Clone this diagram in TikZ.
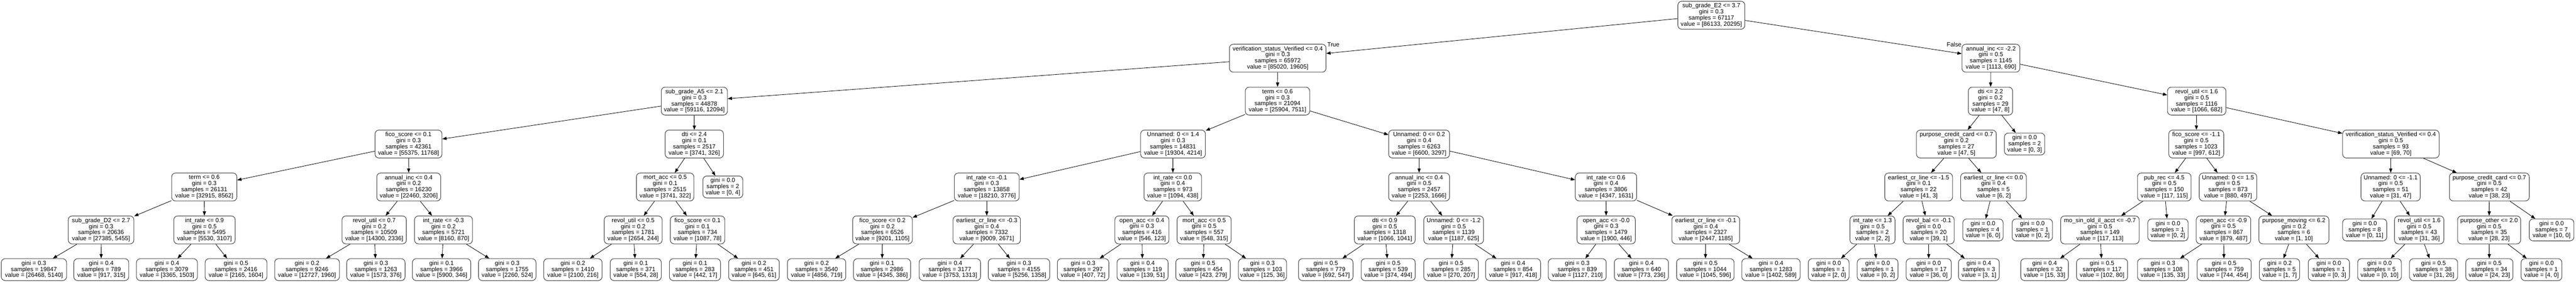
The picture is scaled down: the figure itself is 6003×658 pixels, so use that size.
\documentclass[tikz,border=0pt]{standalone}
\usepackage{fontspec}
\setmainfont{Liberation Sans}
\usetikzlibrary{arrows.meta}
\tikzset{
  tn/.style={draw=black!72, line width=1.3pt, rounded corners=9pt, fill=white, align=center, inner sep=0pt, font=\fontsize{14}{14.2}\selectfont},
  edge/.style={draw=black, line width=1pt, -{Triangle[length=10pt,width=7.5pt]}},
  lbl/.style={inner sep=0pt, font=\fontsize{14}{14.2}\selectfont}
}
% internal node: name, x1, x2, yc, test, gini, samples, v1, v2
\newcommand{\dtI}[9]{\node[tn,minimum width={#3-#2},minimum height=65] (#1) at ({(#2+#3)/2},#4) {#5\\gini = #6\\samples = #7\\value = [#8, #9]};}
% leaf: name, x1, x2, yc, gini, samples, v1, v2
\newcommand{\dtL}[8]{\node[tn,minimum width={#3-#2},minimum height=51] (#1) at ({(#2+#3)/2},#4) {gini = #5\\samples = #6\\value = [#7, #8]};}
\begin{document}
\begin{tikzpicture}[x=1pt,y=-1pt]
\useasboundingbox[fill=white] (0,0) rectangle (6003,658);
% level 0
\dtI{root}{3910}{4066}{35.5}{sub\_grade\_E2 <= 3.7}{0.3}{67117}{86133}{20295}
% level 1
\dtI{v1}{2865}{3090}{135.5}{verification\_status\_Verified <= 0.4}{0.3}{65972}{85020}{19605}
\dtI{a1}{4572}{4707}{135.5}{annual\_inc <= -2.2}{0.5}{1145}{1113}{690}
% level 2
\dtI{sA5}{1541}{1695}{235.5}{sub\_grade\_A5 <= 2.1}{0.3}{44878}{59116}{12094}
\dtI{t2}{2902}{3052}{235.5}{term <= 0.6}{0.3}{21094}{25904}{7511}
\dtI{d22}{4587}{4690}{235.5}{dti <= 2.2}{0.2}{29}{47}{8}
\dtI{ru16}{5051}{5187}{235.5}{revol\_util <= 1.6}{0.5}{1116}{1066}{682}
% level 3
\dtI{f01}{874}{1030}{335.5}{fico\_score <= 0.1}{0.3}{42361}{55375}{11768}
\dtI{d24}{1550}{1686}{335.5}{dti <= 2.4}{0.1}{2517}{3741}{326}
\dtI{u14}{2658}{2809}{335.5}{Unnamed: 0 <= 1.4}{0.3}{14831}{19304}{4214}
\dtI{u02}{3236}{3378}{335.5}{Unnamed: 0 <= 0.2}{0.4}{6263}{6600}{3297}
\dtI{pc1}{4466}{4652}{335.5}{purpose\_credit\_card <= 0.7}{0.2}{27}{47}{5}
\dtL{lf3a}{4671}{4765}{335.5}{0.0}{2}{0}{3}
\dtI{fm11}{5054}{5182}{335.5}{fico\_score <= -1.1}{0.5}{1023}{997}{612}
\dtI{vs2}{5459}{5684}{335.5}{verification\_status\_Verified <= 0.4}{0.5}{93}{69}{70}
% level 4
\dtI{t06}{400}{552}{435.5}{term <= 0.6}{0.3}{26131}{32915}{8562}
\dtI{ai04}{878}{1027}{435.5}{annual\_inc <= 0.4}{0.2}{16230}{22460}{3206}
\dtI{ma05}{1483}{1617}{435.5}{mort\_acc <= 0.5}{0.1}{2515}{3741}{322}
\dtL{lf4a}{1638}{1731}{435.5}{0.0}{2}{0}{4}
\dtI{ir01}{2224}{2375}{435.5}{int\_rate <= -0.1}{0.3}{13858}{18210}{3776}
\dtI{ir00}{2666}{2800}{435.5}{int\_rate <= 0.0}{0.4}{973}{1094}{438}
\dtI{ai04b}{3236}{3378}{435.5}{annual\_inc <= 0.4}{0.5}{2457}{2253}{1666}
\dtI{ir06}{3671}{3814}{435.5}{int\_rate <= 0.6}{0.4}{3806}{4347}{1631}
\dtI{ec15}{4392}{4550}{435.5}{earliest\_cr\_line <= -1.5}{0.1}{22}{41}{3}
\dtI{ec00}{4569}{4722}{435.5}{earliest\_cr\_line <= 0.0}{0.4}{5}{6}{2}
\dtI{pr45}{4981}{5106}{435.5}{pub\_rec <= 4.5}{0.5}{150}{117}{115}
\dtI{u15}{5125}{5259}{435.5}{Unnamed: 0 <= 1.5}{0.5}{873}{880}{497}
\dtI{u11}{5502}{5640}{435.5}{Unnamed: 0 <= -1.1}{0.5}{51}{31}{47}
\dtI{pc2}{5708}{5894}{435.5}{purpose\_credit\_card <= 0.7}{0.5}{42}{38}{23}
% level 5
\dtI{sD2}{159}{312}{535.5}{sub\_grade\_D2 <= 2.7}{0.3}{20636}{27385}{5455}
\dtI{ir09}{405}{548}{535.5}{int\_rate <= 0.9}{0.5}{5495}{5530}{3107}
\dtI{ru07}{797}{947}{535.5}{revol\_util <= 0.7}{0.2}{10509}{14300}{2336}
\dtI{ir03}{966}{1101}{535.5}{int\_rate <= -0.3}{0.2}{5721}{8160}{870}
\dtI{ru05}{1408}{1543}{535.5}{revol\_util <= 0.5}{0.2}{1781}{2654}{244}
\dtI{f01b}{1562}{1689}{535.5}{fico\_score <= 0.1}{0.1}{734}{1087}{78}
\dtI{f02}{1987}{2126}{535.5}{fico\_score <= 0.2}{0.2}{6526}{9201}{1105}
\dtI{ec03}{2221}{2378}{535.5}{earliest\_cr\_line <= -0.3}{0.4}{7332}{9009}{2671}
\dtI{oa04}{2598}{2724}{535.5}{open\_acc <= 0.4}{0.3}{416}{546}{123}
\dtI{ma05b}{2743}{2869}{535.5}{mort\_acc <= 0.5}{0.5}{557}{548}{315}
\dtI{d09}{3156}{3298}{535.5}{dti <= 0.9}{0.5}{1318}{1066}{1041}
\dtI{u12}{3318}{3457}{535.5}{Unnamed: 0 <= -1.2}{0.5}{1139}{1187}{625}
\dtI{oa00}{3675}{3811}{535.5}{open\_acc <= -0.0}{0.3}{1479}{1900}{446}
\dtI{ec01}{3896}{4054}{535.5}{earliest\_cr\_line <= -0.1}{0.4}{2327}{2447}{1185}
\dtI{ir13}{4311}{4416}{535.5}{int\_rate <= 1.3}{0.5}{2}{2}{2}
\dtI{rb01}{4435}{4554}{535.5}{revol\_bal <= -0.1}{0.0}{20}{39}{1}
\dtL{lf5a}{4574}{4668}{535.5}{0.0}{4}{6}{0}
\dtL{lf5b}{4689}{4783}{535.5}{0.0}{1}{0}{2}
\dtI{mo07}{4802}{4985}{535.5}{mo\_sin\_old\_il\_acct <= -0.7}{0.5}{149}{117}{113}
\dtL{lf5c}{5005}{5099}{535.5}{0.0}{1}{0}{2}
\dtI{oa09}{5118}{5245}{535.5}{open\_acc <= -0.9}{0.5}{867}{879}{487}
\dtI{pm62}{5264}{5427}{535.5}{purpose\_moving <= 6.2}{0.2}{6}{1}{10}
\dtL{lf5d}{5459}{5562}{535.5}{0.0}{8}{0}{11}
\dtI{ru16b}{5580}{5695}{535.5}{revol\_util <= 1.6}{0.5}{43}{31}{36}
\dtI{po20}{5727}{5874}{535.5}{purpose\_other <= 2.0}{0.5}{35}{28}{23}
\dtL{lf5e}{5894}{5998}{535.5}{0.0}{7}{10}{0}
% level 6 leaves
\dtL{l1}{3}{155}{628}{0.3}{19847}{26468}{5140}
\dtL{l2}{172}{300}{628}{0.4}{789}{917}{315}
\dtL{l3}{318}{460}{628}{0.4}{3079}{3365}{1503}
\dtL{l4}{478}{622}{628}{0.5}{2416}{2165}{1604}
\dtL{l5}{640}{791}{628}{0.2}{9246}{12727}{1960}
\dtL{l6}{808}{944}{628}{0.3}{1263}{1573}{376}
\dtL{l7}{961}{1097}{628}{0.1}{3966}{5900}{346}
\dtL{l8}{1115}{1249}{628}{0.3}{1755}{2260}{524}
\dtL{l9}{1267}{1403}{628}{0.2}{1410}{2100}{216}
\dtL{l10}{1422}{1541}{628}{0.1}{371}{554}{28}
\dtL{l11}{1560}{1679}{628}{0.1}{283}{442}{17}
\dtL{l12}{1698}{1816}{628}{0.2}{451}{645}{61}
\dtL{l13}{1835}{1971}{628}{0.2}{3540}{4856}{719}
\dtL{l14}{1989}{2122}{628}{0.1}{2986}{4345}{386}
\dtL{l15}{2142}{2285}{628}{0.4}{3177}{3753}{1313}
\dtL{l16}{2303}{2446}{628}{0.3}{4155}{5256}{1358}
\dtL{l17}{2464}{2584}{628}{0.3}{297}{407}{72}
\dtL{l18}{2603}{2722}{628}{0.4}{119}{139}{51}
\dtL{l19}{2740}{2867}{628}{0.5}{454}{423}{279}
\dtL{l20}{2886}{2998}{628}{0.3}{103}{125}{36}
\dtL{l21}{3026}{3153}{628}{0.5}{779}{692}{547}
\dtL{l22}{3172}{3298}{628}{0.5}{539}{374}{494}
\dtL{l23}{3318}{3445}{628}{0.5}{285}{270}{207}
\dtL{l24}{3462}{3590}{628}{0.4}{854}{917}{418}
\dtL{l25}{3608}{3743}{628}{0.3}{839}{1127}{210}
\dtL{l26}{3762}{3888}{628}{0.4}{640}{773}{236}
\dtL{l27}{3907}{4041}{628}{0.5}{1044}{1045}{596}
\dtL{l28}{4059}{4195}{628}{0.4}{1283}{1402}{589}
\dtL{l29}{4214}{4309}{628}{0.0}{1}{2}{0}
\dtL{l30}{4328}{4423}{628}{0.0}{1}{0}{2}
\dtL{l31}{4442}{4547}{628}{0.0}{17}{36}{0}
\dtL{l32}{4564}{4659}{628}{0.4}{3}{3}{1}
\dtL{l33}{4709}{4820}{628}{0.4}{32}{15}{33}
\dtL{l34}{4839}{4958}{628}{0.5}{117}{102}{80}
\dtL{l35}{4981}{5100}{628}{0.3}{108}{135}{33}
\dtL{l36}{5120}{5246}{628}{0.5}{759}{744}{454}
\dtL{l37}{5265}{5359}{628}{0.2}{5}{1}{7}
\dtL{l38}{5379}{5475}{628}{0.0}{1}{0}{3}
\dtL{l39}{5494}{5596}{628}{0.0}{5}{0}{10}
\dtL{l40}{5615}{5727}{628}{0.5}{38}{31}{26}
\dtL{l41}{5746}{5856}{628}{0.5}{34}{24}{23}
\dtL{l42}{5875}{5970}{628}{0.0}{1}{4}{0}
% edge labels
\node[lbl,anchor=west] (lblT) at (3093,104) {True};
\node[lbl,anchor=east] (lblF) at (4571,104) {False};
% edges
\foreach \p/\c in {root/v1,root/a1,v1/sA5,v1/t2,a1/d22,a1/ru16,
  sA5/f01,sA5/d24,t2/u14,t2/u02,d22/pc1,d22/lf3a,ru16/fm11,ru16/vs2,
  f01/t06,f01/ai04,d24/ma05,d24/lf4a,u14/ir01,u14/ir00,u02/ai04b,u02/ir06,
  pc1/ec15,pc1/ec00,fm11/pr45,fm11/u15,vs2/u11,vs2/pc2,
  t06/sD2,t06/ir09,ai04/ru07,ai04/ir03,ma05/ru05,ma05/f01b,ir01/f02,ir01/ec03,
  ir00/oa04,ir00/ma05b,ai04b/d09,ai04b/u12,ir06/oa00,ir06/ec01,ec15/ir13,ec15/rb01,
  ec00/lf5a,ec00/lf5b,pr45/mo07,pr45/lf5c,u15/oa09,u15/pm62,u11/lf5d,u11/ru16b,
  pc2/po20,pc2/lf5e,
  sD2/l1,sD2/l2,ir09/l3,ir09/l4,ru07/l5,ru07/l6,ir03/l7,ir03/l8,ru05/l9,ru05/l10,
  f01b/l11,f01b/l12,f02/l13,f02/l14,ec03/l15,ec03/l16,oa04/l17,oa04/l18,
  ma05b/l19,ma05b/l20,d09/l21,d09/l22,u12/l23,u12/l24,oa00/l25,oa00/l26,
  ec01/l27,ec01/l28,ir13/l29,ir13/l30,rb01/l31,rb01/l32,mo07/l33,mo07/l34,
  oa09/l35,oa09/l36,pm62/l37,pm62/l38,ru16b/l39,ru16b/l40,po20/l41,po20/l42}
  \draw[edge] (\p) -- (\c);
\end{tikzpicture}
\end{document}
